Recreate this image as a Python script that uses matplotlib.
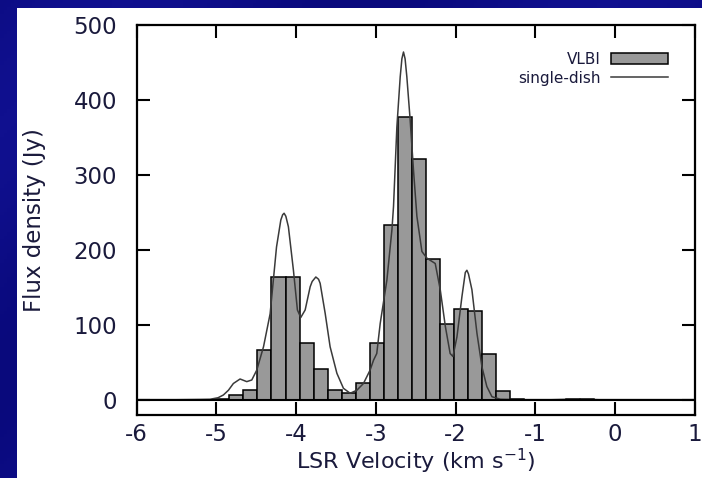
import numpy as np
import matplotlib
matplotlib.use("Agg")
import matplotlib.pyplot as plt
from matplotlib.patches import Rectangle

# ---- data ----
vlbi_velocity = [-4.926, -4.750, -4.574, -4.398, -4.222, -4.046, -3.870, -3.694,
                 -3.518, -3.342, -3.166, -2.990, -2.814, -2.638, -2.462, -2.286,
                 -2.110, -1.934, -1.758, -1.582, -1.406, -1.230, -1.054, -0.878,
                 -0.702, -0.526, -0.350]
vlbi_flux = [1.5, 6.7, 14, 66.7, 164, 164, 75.6, 41,
             14, 9, 23, 75.6, 233, 377, 321, 188,
             102, 121, 118.7, 62, 12, 2, 0.5, 0.3,
             0.3, 1.0, 1.0]
vlbi_width = 0.176

sd_velocity = [-6.0, -5.5, -5.2, -5.08, -4.98, -4.913, -4.85, -4.788, -4.704, -4.62,
               -4.557, -4.494, -4.41, -4.327, -4.247, -4.193, -4.17, -4.152, -4.13,
               -4.098, -4.035, -3.985, -3.943, -3.888, -3.825, -3.80, -3.754, -3.72,
               -3.70, -3.637, -3.575, -3.49, -3.408, -3.324, -3.24, -3.157, -3.073,
               -3.031, -2.99, -2.947, -2.863, -2.80, -2.78, -2.738, -2.696, -2.675,
               -2.655, -2.635, -2.613, -2.571, -2.53, -2.487, -2.424, -2.36, -2.257,
               -2.194, -2.13, -2.07, -2.035, -1.985, -1.922, -1.88, -1.86, -1.84,
               -1.797, -1.734, -1.671, -1.61, -1.546, -1.44, -1.2, -0.8, -0.5,
               -0.2, 0.3, 1.0]
sd_flux = [0.5, 0.5, 0.8, 1.0, 3.0, 6.7, 13, 22, 28, 24.5,
           26.7, 40, 71, 115, 204, 240, 247, 249, 245,
           231, 173, 120, 110, 120, 151, 158, 164, 161,
           155.6, 115.6, 71, 35.6, 15.6, 9, 13, 22, 40,
           53, 62, 102, 160, 227, 258, 364, 431, 455,
           464, 455, 431, 373, 307, 245, 198, 189, 182,
           147, 98, 62, 58, 84, 138, 170, 173, 168,
           147, 89, 44, 18, 4.4, 1.0, 0.5, 0.5, 1.2,
           0.5, 0.5, 0.5]

x_ticks = [-6, -5, -4, -3, -2, -1, 0, 1]
y_ticks = [0, 100, 200, 300, 400, 500]
x_label = "LSR Velocity (km s$^{-1}$)"
y_label = "Flux density (Jy)"
series_labels = ["VLBI", "single-dish"]

# ---- figure ----
W, H = 702, 478
fig = plt.figure(figsize=(W / 100, H / 100), dpi=100)
fig.patch.set_facecolor("#0b0b84")

# subtle background gradient
bg = fig.add_axes([0, 0, 1, 1], zorder=-10)
gx, gy = np.meshgrid(np.linspace(0, 1, 200), np.linspace(0, 1, 140))
g = 0.5 + 0.5 * np.sin((gx * 3 + gy * 2) * 3.0)
bg.imshow(g, cmap=matplotlib.colors.LinearSegmentedColormap.from_list(
    "b", ["#09097c", "#10108f"]), aspect="auto", extent=[0, 1, 0, 1])
bg.set_axis_off()
# white slide panel
bg.add_patch(Rectangle((17 / W, 0), 1, 1 - 8 / H, transform=bg.transAxes,
                       facecolor="white", edgecolor="none"))
bg.set_xlim(0, 1)
bg.set_ylim(0, 1)

text_color = "#1a1a3c"
ax = fig.add_axes([136.7 / W, 1 - 415 / H, (695 - 136.7) / W, (415 - 25) / H])
ax.set_facecolor("white")

bars = ax.bar(vlbi_velocity, vlbi_flux, width=vlbi_width, color="#999999",
              edgecolor="black", linewidth=1.1, label=series_labels[0], zorder=2)
line, = ax.plot(sd_velocity, sd_flux, color="#3a3a3a", lw=1.1,
                label=series_labels[1], zorder=3)
ax.axhline(0, color="black", lw=1.5, zorder=4)

ax.set_xlim(-6, 1)
ax.set_ylim(-20, 500)
ax.set_xticks(x_ticks)
ax.set_xticklabels([str(t) for t in x_ticks])
ax.set_yticks(y_ticks)
ax.tick_params(direction="in", length=9.5, width=1.5, top=True, right=True,
               labelsize=16.5, colors="black", labelcolor=text_color)
ax.tick_params(axis="y", pad=14)
ax.tick_params(axis="x", pad=6)
for s in ax.spines.values():
    s.set_linewidth(1.6)

ax.set_xlabel(x_label, fontsize=16, color=text_color, labelpad=0)
ax.set_ylabel(y_label, fontsize=16.5, color=text_color, labelpad=20)

leg = ax.legend([bars, line], series_labels, loc="upper right", frameon=False,
                markerfirst=False, fontsize=11, handlelength=3.7,
                handleheight=0.75, handletextpad=0.7, labelspacing=0.25,
                borderpad=0, borderaxespad=0,
                bbox_to_anchor=((668 - 136.7) / 558.3, (415 - 52) / 390))
for t in leg.get_texts():
    t.set_color(text_color)

fig.savefig("out.png", dpi=100, facecolor=fig.get_facecolor())
